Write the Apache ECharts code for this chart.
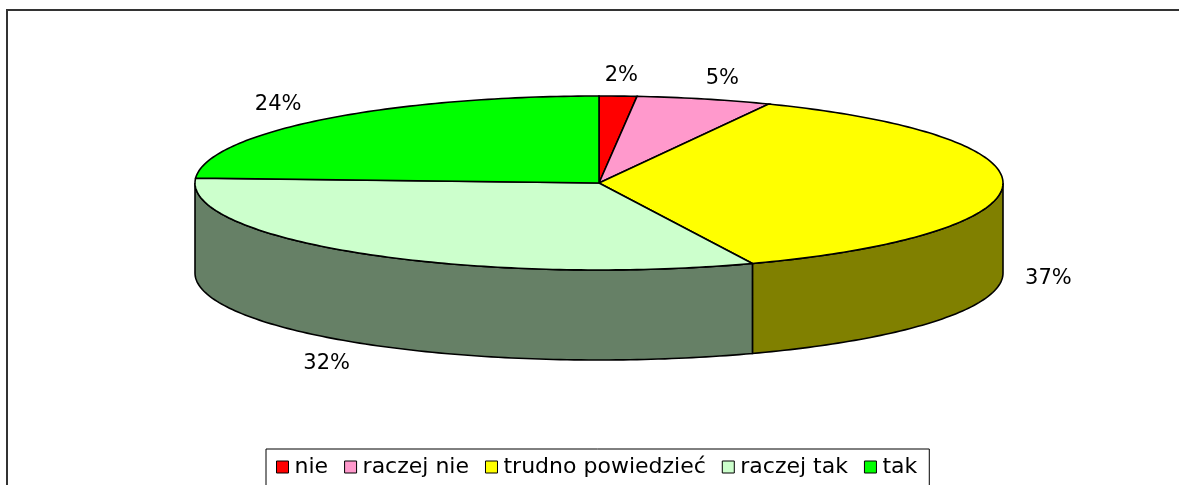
<!DOCTYPE html>
<html>
<head>
<meta charset="utf-8">
<script src="https://cdn.jsdelivr.net/npm/echarts@6/dist/echarts.min.js"></script>
<style>
  html, body { margin: 0; padding: 0; background: #fff; }
  #chart { width: 1179px; height: 485px; }
</style>
</head>
<body>
<div id="chart"></div>
<script>
// dane wykresu
var categories = ['nie', 'raczej nie', 'trudno powiedzieć', 'raczej tak', 'tak'];
var values = [1.5, 5.4, 36.9, 32.1, 24.1];
var topColors = ['#FF0000', '#FF99CC', '#FFFF00', '#CCFFCC', '#00FF00'];
var sideColors = ['#800000', '#804C66', '#808000', '#668066', '#008000'];

var total = values.reduce(function (a, b) { return a + b; }, 0);

// geometria "3D" tortu (elipsa + wysokość)
var cx = 599, cy = 183, rx = 404, ry = 87, depth = 90;
var FONT = '21px "DejaVu Sans"';

function pt(deg, dy) {
	var r = deg * Math.PI / 180;
	return [cx + rx * Math.sin(r), cy - ry * Math.cos(r) + (dy || 0)];
}

function arc(a1, a2, dy) {
	var pts = [];
	var n = Math.max(2, Math.ceil(a2 - a1));
	for (var k = 0; k <= n; k++) {
		pts.push(pt(a1 + (a2 - a1) * k / n, dy));
	}
	return pts;
}

function renderItem(params, api) {
	var i = params.seriesIndex;
	var start = 0;
	for (var k = 0; k < i; k++) start += values[k];
	var v = api.value(0);
	var a1 = start / total * 360;
	var a2 = (start + v) / total * 360;
	var children = [];

	// ściana boczna - tylko przednia połowa
	var s = Math.max(a1, 90), e = Math.min(a2, 270);
	if (e > s) {
		var top = arc(s, e, 0);
		var bottom = arc(s, e, depth).reverse();
		children.push({
			type: 'polygon',
			z2: 1,
			shape: { points: top.concat(bottom) },
			style: { fill: sideColors[i], stroke: '#000', lineWidth: 1.6 }
		});
	}

	// wierzch
	children.push({
		type: 'polygon',
		z2: 5,
		shape: { points: [[cx, cy]].concat(arc(a1, a2, 0)) },
		style: { fill: topColors[i], stroke: '#000', lineWidth: 1.6 }
	});

	// etykieta
	var mid = (a1 + a2) / 2 * Math.PI / 180;
	var sn = Math.sin(mid), cs = Math.cos(mid);
	var lx = cx + (rx + 45) * sn + 25 * sn * Math.abs(cs);
	var ly = cy - (ry + 21) * cs + (cs < 0 ? depth + 3 : 0);
	children.push({
		type: 'text',
		z2: 6,
		x: lx,
		y: ly,
		style: {
			text: Math.round(v / total * 100) + '%',
			font: FONT,
			fill: '#000',
			align: 'center',
			verticalAlign: 'middle'
		}
	});

	return { type: 'group', children: children };
}

var series = [];
for (var i = 0; i < categories.length; i++) {
	series.push({
		name: categories[i],
		type: 'custom',
		coordinateSystem: 'none',
		renderItem: renderItem,
		itemStyle: { color: topColors[i] },
		data: [values[i]],
		animation: false
	});
}

var myChart = echarts.init(document.getElementById('chart'));
var option = {
	backgroundColor: '#fff',
	animation: false,
	graphic: [{
		type: 'rect',
		shape: { x: 7, y: 10, width: 1400, height: 700 },
		style: { fill: null, stroke: '#333', lineWidth: 2 },
		silent: true
	}],
	legend: {
		data: categories,
		left: 266,
		top: 449,
		padding: [7, 12, 12, 10],
		itemGap: 16,
		itemWidth: 12,
		itemHeight: 12,
		icon: 'rect',
		borderColor: '#000',
		borderWidth: 1,
		backgroundColor: '#fff',
		itemStyle: { borderColor: '#000', borderWidth: 1 },
		textStyle: { fontFamily: 'DejaVu Sans', fontSize: 22, color: '#000', padding: [0, 0, 0, 1] },
		selectedMode: false
	},
	series: series
};
myChart.setOption(option);
</script>
</body>
</html>
